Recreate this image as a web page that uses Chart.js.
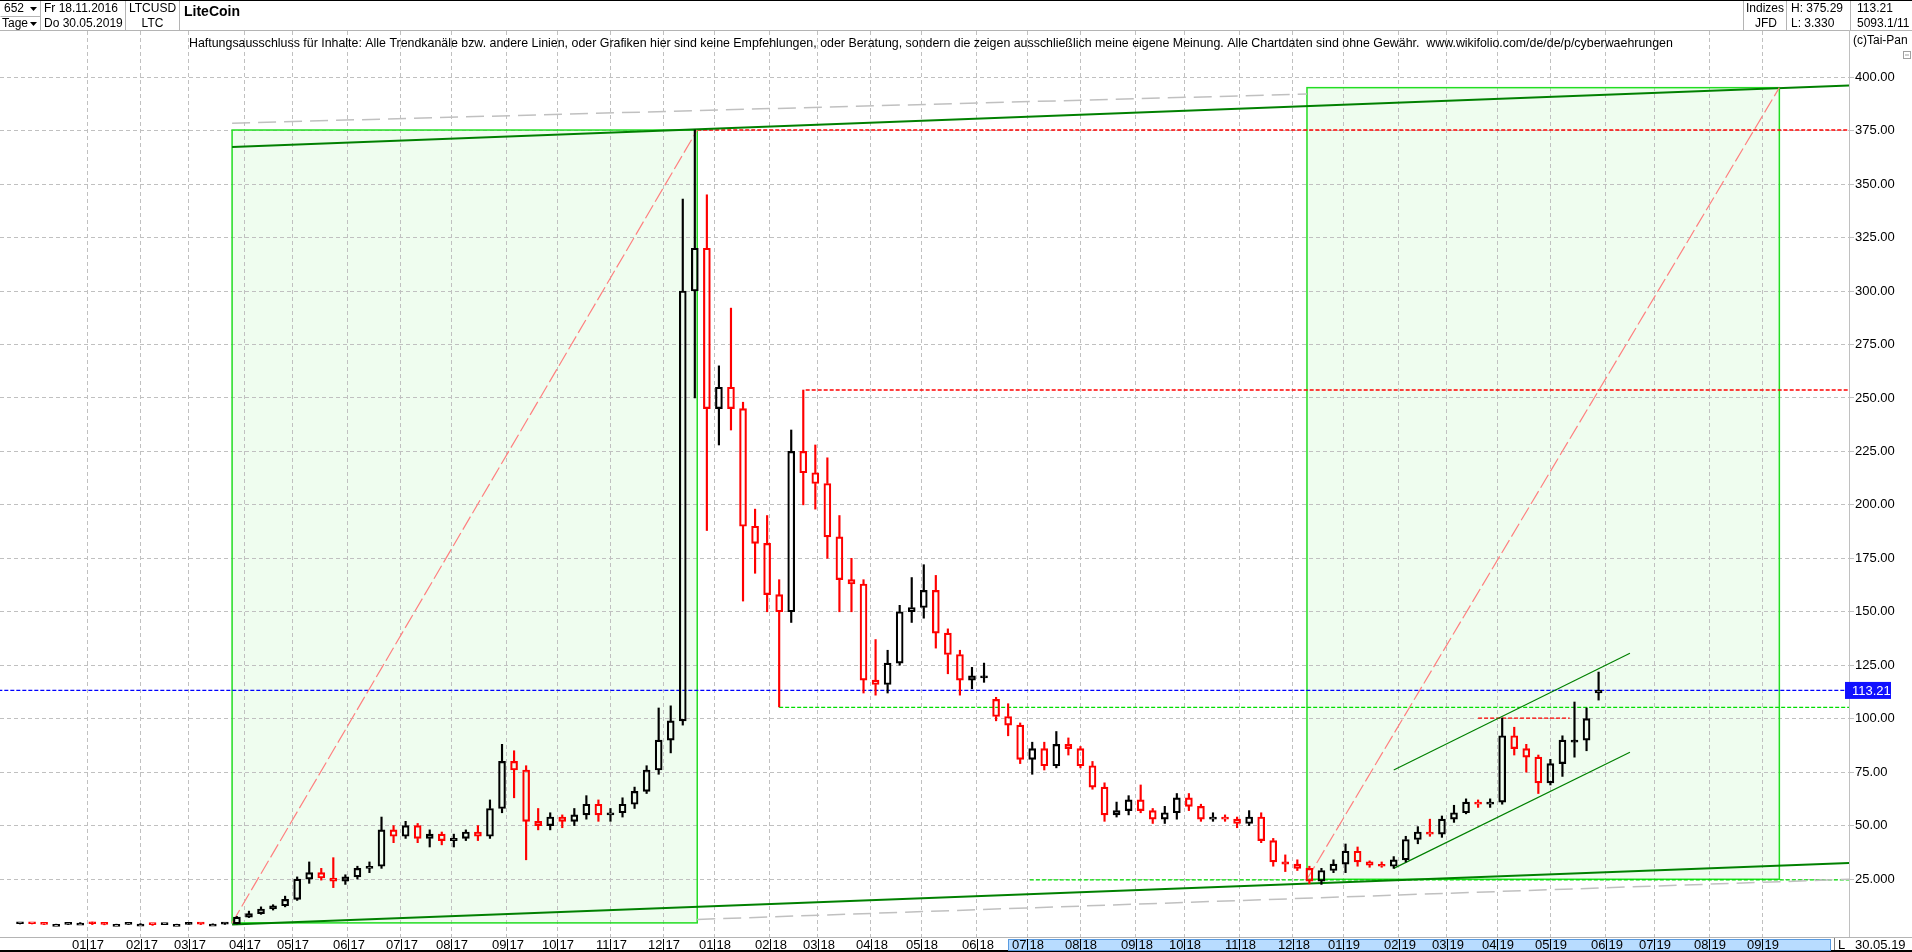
<!DOCTYPE html>
<html>
<head>
<meta charset="utf-8">
<script src="https://cdn.jsdelivr.net/npm/chart.js@4.4.1/dist/chart.umd.min.js"></script>
<style>
  html, body { margin: 0; padding: 0; background: #fff; overflow: hidden; }
  canvas { display: block; }
</style>
</head>
<body>
<canvas id="chart" width="1912" height="952" style="width:1912px;height:952px"></canvas>
<script>
// LTCUSD weekly candles, 18.11.2016 - 30.05.2019 (one candle per trading week)
const FIRST_DAY = '2016-11-18'

const weekOpen = [
  4.1, 4.2, 4.1, 3.8, 3.8, 4.4, 4.4, 4.1, 3.8, 3.8,
  3.9, 3.9, 3.7, 3.8, 3.8, 4.1, 3.9, 3.9, 4.1, 7.2,
  8.8, 11, 12.5, 15.5, 25, 28, 25.5, 24, 26, 30,
  31, 48, 45, 50, 44, 46, 43, 44, 47, 45,
  58, 80, 76, 52, 50, 54, 52, 55, 60, 55,
  56, 60, 66, 76, 90, 99, 300, 320, 245, 255,
  245, 190, 182, 158, 150, 225, 215, 210, 185, 165,
  163, 118, 116, 126, 150, 152, 160, 140, 130, 118,
  120, 109, 101, 97, 81, 86, 78, 88, 86, 78,
  68, 55, 57, 62, 57, 53, 56, 63, 59, 53,
  54, 53, 51, 54, 43, 33, 32, 30, 24, 29,
  32, 38, 33, 31.5, 31, 34, 43.5, 47, 46, 53,
  56, 61, 60, 61, 92, 86, 82, 70, 79, 90,
  90, 112,
]
const weekHigh = [
  4.3, 4.3, 4.1, 3.9, 4.6, 4.6, 4.9, 4.2, 3.9, 4.0,
  4.1, 4.0, 3.9, 3.9, 4.3, 4.2, 4.0, 4.3, 7.5, 10,
  12, 13, 17, 26, 33, 30, 35, 27, 31, 33,
  54, 50, 52, 51, 48, 47, 46, 48, 50, 62,
  88, 85, 78, 58, 56, 55, 58, 64, 62, 58,
  63, 68, 78, 105, 106, 343, 375.29, 345, 265, 292,
  248, 198, 195, 165, 235, 253.7, 228, 222, 195, 175,
  165, 137, 132, 153, 166, 172, 167, 142, 132, 124,
  126, 110, 107, 98, 89, 89, 94, 91, 87, 80,
  70, 61, 64, 69, 58, 59, 65, 65, 60, 56,
  55, 54, 57, 56, 44, 36.3, 34, 31, 30, 34,
  41.4, 40, 33.5, 33, 35.5, 45, 49.5, 53, 54.5, 59.5,
  62.5, 62, 62.5, 100.3, 96, 88, 83, 81, 92, 107.8,
  105, 121.8,
]
const weekLow = [
  4.0, 4.0, 3.7, 3.7, 3.7, 4.2, 3.7, 3.6, 3.7, 3.8,
  3.8, 3.33, 3.7, 3.7, 3.8, 3.7, 3.8, 3.8, 4.0, 7.0,
  8.5, 10.5, 12, 15, 23, 24.5, 21, 22.5, 25, 28,
  30, 42, 44, 42, 40, 41, 40, 43, 43, 44,
  56, 63, 34, 48, 48, 49, 50, 53, 52, 52,
  54, 58, 65, 74, 84, 97, 250, 188, 228, 235,
  155, 168, 150, 105.5, 145, 200, 198, 175, 150, 150,
  112, 111, 112, 125, 145, 147, 133, 121, 111, 114,
  117, 99, 92, 79, 74, 76, 77, 83, 77, 67,
  52, 54, 55, 56, 51, 51, 53, 57, 52, 52,
  52, 49, 50, 42, 31, 28.5, 29, 22.8, 22.5, 28,
  28, 31, 30.5, 30.5, 30, 33, 41.5, 45, 44.5, 51.5,
  55.5, 58.5, 58.5, 60, 83, 75, 65, 69, 73, 82,
  85, 108.7,
]
const weekClose = [
  4.2, 4.1, 3.8, 3.8, 4.4, 4.4, 4.1, 3.8, 3.8, 3.9,
  3.9, 3.7, 3.8, 3.8, 4.1, 3.9, 3.9, 4.1, 7.2, 8.8,
  11, 12.5, 15.5, 25, 28, 25.5, 24, 26, 30, 31,
  48, 45, 50, 44, 46, 43, 44, 47, 45, 58,
  80, 76, 52, 50, 54, 52, 55, 60, 55, 56,
  60, 66, 76, 90, 99, 300, 320, 245, 255, 245,
  190, 182, 158, 150, 225, 215, 210, 185, 165, 163,
  118, 116, 126, 150, 152, 160, 140, 130, 118, 120,
  120, 101, 97, 81, 86, 78, 88, 86, 78, 68,
  55, 57, 62, 57, 53, 56, 63, 59, 53, 54,
  53, 51, 54, 43, 33, 32, 30, 24, 29, 32,
  38, 33, 31.5, 31, 34, 43.5, 47, 46, 53, 56,
  61, 60, 61, 92, 86, 82, 70, 79, 90, 90,
  100, 113.21,
]

const priceTicks = [25, 50, 75, 100, 125, 150, 175, 200, 225, 250, 275, 300, 325, 350, 375, 400]
const monthLabels = [
  '01|17', '02|17', '03|17', '04|17', '05|17', '06|17', '07|17', '08|17', '09|17', '10|17', '11|17', '12|17',
  '01|18', '02|18', '03|18', '04|18', '05|18', '06|18', '07|18', '08|18', '09|18', '10|18', '11|18', '12|18',
  '01|19', '02|19', '03|19', '04|19', '05|19', '06|19', '07|19', '08|19', '09|19',
]

// drawing tools, in trading-day numbers since 18.11.2016 and price: [bar1, price1, bar2, price2]
const channelBoxes = [[91, 4.5, 284, 375.29], [537, 24.9, 733, 395.1]]
const longTrends = [[91, 367.4, 762, 396.1], [91, 3.8, 762, 32.5]]
const greyTrends = [[91, 378.5, 537, 392.1], [284, 6.1, 762, 24.9]]
const channel2019 = [[573, 76.0, 671, 130.6], [573, 30.0, 671, 84.3]]
const redLevels = [[284, 375.29, 770, 375.29], [329, 253.7, 770, 253.7], [608, 100.3, 646, 100.3]]
const greenLevels = [[318, 105.3, 770, 105.3], [422, 24.6, 770, 24.6]]
const lastClose = weekClose[weekClose.length - 1]

const visibleBars = [-5.3, 761.9]
const scrollWindow = [413, 754]

const FONT = "'Liberation Sans', Arial, sans-serif"
const FONT_NARROW = "'Liberation Sans Narrow', 'Liberation Sans', Arial, sans-serif"
const DISCLAIMER = 'Haftungsausschluss für Inhalte: Alle Trendkanäle bzw. andere Linien, oder Grafiken hier sind keine Empfehlungen, oder Beratung, sondern die zeigen ausschließlich meine eigene Meinung. Alle Chartdaten sind ohne Gewähr.  www.wikifolio.com/de/de/p/cyberwaehrungen'

// trading days (Mon-Fri) between the first bar and a date
function barNumber(iso) {
  const t = new Date(FIRST_DAY + 'T00:00:00Z')
  const end = new Date(iso + 'T00:00:00Z')
  let n = 0
  while (t < end) {
    const wd = t.getUTCDay()
    if (wd !== 0 && wd !== 6) n++
    t.setUTCDate(t.getUTCDate() + 1)
  }
  return n
}

const monthBars = monthLabels.map(lab => {
  const [mm, yy] = lab.split('|')
  return barNumber('20' + yy + '-' + mm + '-01')
})

// week k covers trading days 5k+1 .. 5k+5
const weekBar = weekOpen.map((_, k) => 5 * k + 3)
const candleColor = weekClose.map((c, k) => (c >= weekOpen[k] ? '#000000' : '#ff0000'))

function segment(s, color, width, dash) {
  return {
    type: 'line',
    data: [{ x: s[0], y: s[1] }, { x: s[2], y: s[3] }],
    borderColor: color,
    borderWidth: width,
    borderDash: dash,
    pointRadius: 0,
    fill: false,
    tension: 0,
    order: 10,
  }
}

const lineSets = [
  ...channelBoxes.map(b => segment(b, '#ff8080', 1.2, [15, 4])),
  ...greyTrends.map(s => segment(s, '#c0c0c0', 1.5, [18, 8])),
  ...longTrends.map(s => segment(s, '#008000', 2, [])),
  ...channel2019.map(s => segment(s, '#008000', 1.2, [])),
  ...redLevels.map(s => segment(s, '#ff0000', 1.3, [4, 2])),
  ...greenLevels.map(s => segment(s, '#00dd00', 1.3, [4, 2])),
  segment([-6, lastClose, 770, lastClose], '#0000ff', 1.3, [4, 2]),
]

const candleSets = [
  {
    type: 'bar',
    data: weekBar.map((x, k) => ({ x, y: [Math.max(weekOpen[k], weekClose[k]), weekHigh[k]] })),
    backgroundColor: candleColor,
    borderWidth: 0,
    barThickness: 1.5,
    grouped: false,
    order: 3,
  },
  {
    type: 'bar',
    data: weekBar.map((x, k) => ({ x, y: [weekLow[k], Math.min(weekOpen[k], weekClose[k])] })),
    backgroundColor: candleColor,
    borderWidth: 0,
    barThickness: 1.5,
    grouped: false,
    order: 3,
  },
  {
    type: 'bar',
    data: weekBar.map((x, k) => ({ x, y: [weekOpen[k], weekClose[k]] })),
    backgroundColor: 'rgba(0,0,0,0)',
    borderColor: candleColor,
    borderWidth: 1.5,
    borderSkipped: false,
    minBarLength: 2,
    barThickness: 7,
    grouped: false,
    order: 1,
  },
]

function hline(ctx, x1, y1, x2, y2) {
  ctx.beginPath()
  ctx.moveTo(x1, y1)
  ctx.lineTo(x2, y2)
  ctx.stroke()
}

function text(ctx, s, x, y, font, align) {
  ctx.font = font
  ctx.textAlign = align || 'left'
  ctx.fillText(s, x, y)
}

function dropArrow(ctx, x, y) {
  ctx.beginPath()
  ctx.moveTo(x, y - 2)
  ctx.lineTo(x + 7, y - 2)
  ctx.lineTo(x + 3.5, y + 2)
  ctx.closePath()
  ctx.fill()
}

const taiPan = {
  id: 'taiPan',
  beforeDraw(chart) {
    const { ctx, chartArea: a, scales: { x, y } } = chart
    ctx.save()
    ctx.fillStyle = '#fff'
    ctx.fillRect(0, 0, chart.width, chart.height)
    ctx.beginPath()
    ctx.rect(a.left, a.top, a.right - a.left, a.bottom - a.top)
    ctx.clip()
    ctx.fillStyle = '#effdef'
    for (const b of channelBoxes) {
      const l = x.getPixelForValue(b[0])
      const r = x.getPixelForValue(b[2])
      const t = y.getPixelForValue(b[3])
      const btm = y.getPixelForValue(b[1])
      ctx.fillRect(l, t, r - l, btm - t)
    }
    ctx.restore()
  },
  beforeDatasetsDraw(chart) {
    const { ctx, scales: { x, y } } = chart
    ctx.save()
    ctx.strokeStyle = '#22dd22'
    ctx.lineWidth = 1.5
    for (const b of channelBoxes) {
      const l = x.getPixelForValue(b[0])
      const r = x.getPixelForValue(b[2])
      const t = y.getPixelForValue(b[3])
      const btm = y.getPixelForValue(b[1])
      ctx.strokeRect(l, t, r - l, btm - t)
    }
    ctx.restore()
  },
  afterDraw(chart) {
    const { ctx, chartArea: a, scales: { x, y } } = chart
    const W = chart.width
    const H = chart.height
    const f12 = '12px ' + FONT
    const f13 = '13px ' + FONT
    ctx.save()
    ctx.textBaseline = 'middle'
    ctx.fillStyle = '#000'

    // header
    ctx.fillStyle = '#fff'
    ctx.fillRect(0, 0, W, 30)
    ctx.fillStyle = '#000'
    ctx.fillRect(0, 0, W, 1)
    ctx.strokeStyle = '#b4b4b4'
    ctx.lineWidth = 1
    hline(ctx, 0, 30.5, W, 30.5)
    for (const sx of [40.5, 125.5, 179.5, 1743.5, 1786.5, 1850.5]) hline(ctx, sx, 1, sx, 30)
    hline(ctx, 0.5, 16.5, 40, 16.5)
    text(ctx, '652', 4, 9, f12)
    dropArrow(ctx, 30, 9)
    text(ctx, 'Tage', 2, 24, f12)
    dropArrow(ctx, 30, 24)
    text(ctx, 'Fr 18.11.2016', 44, 9, f12)
    text(ctx, 'Do 30.05.2019', 44, 24, f12)
    text(ctx, 'LTCUSD', 129, 9, f12)
    text(ctx, 'LTC', 152.5, 24, f12, 'center')
    text(ctx, 'LiteCoin', 184, 12, 'bold 14px ' + FONT)
    text(ctx, 'Indizes', 1784, 9, f12, 'right')
    text(ctx, 'JFD', 1766, 24, f12, 'center')
    text(ctx, 'H: ' + Math.max(...weekHigh).toFixed(2), 1791, 9, f12)
    text(ctx, 'L: ' + Math.min(...weekLow).toFixed(3), 1791, 24, f12)
    text(ctx, lastClose.toFixed(2), 1857, 9, f12)
    text(ctx, '5093.1/11', 1857, 24, f12)

    // disclaimer and copyright
    text(ctx, DISCLAIMER, 189, 44, '12.4px ' + FONT)
    text(ctx, '(c)Tai-Pan', 1853, 41, f12)
    ctx.strokeStyle = '#a0a0a0'
    ctx.strokeRect(1903.5, 51.5, 7, 7)
    hline(ctx, 1905, 55, 1909, 55)

    // right axis separator
    ctx.strokeStyle = '#c0c0c0'
    hline(ctx, a.right + 0.5, 30, a.right + 0.5, H)

    // last price tag
    const py = y.getPixelForValue(lastClose)
    ctx.fillStyle = '#1010ff'
    ctx.fillRect(a.right - 4, py - 8.5, 46, 17)
    ctx.fillStyle = '#fff'
    text(ctx, lastClose.toFixed(2), a.right + 3, py + 0.5, f13)

    // time axis strip
    ctx.fillStyle = '#fff'
    ctx.fillRect(0, a.bottom + 1, W, H - a.bottom - 1)
    ctx.strokeStyle = '#b4b4b4'
    hline(ctx, 0, a.bottom + 0.5, W, a.bottom + 0.5)
    ctx.fillStyle = '#000'
    ctx.fillRect(0, H - 2, W, 2)
    const s1 = x.getPixelForValue(scrollWindow[0])
    const s2 = x.getPixelForValue(scrollWindow[1])
    ctx.fillStyle = '#b8dcff'
    ctx.fillRect(s1, a.bottom + 2.5, s2 - s1, 11)
    ctx.strokeStyle = '#5a9be0'
    ctx.strokeRect(Math.round(s1) + 0.5, a.bottom + 2.5, Math.round(s2 - s1), 11)

    ctx.fillStyle = '#000'
    ctx.strokeStyle = '#000'
    const ly = a.bottom + 8
    monthLabels.forEach((lab, k) => {
      const px = Math.round(x.getPixelForValue(monthBars[k])) + 0.5
      const [mm, yy] = lab.split('|')
      text(ctx, mm, px - 1, ly, '13px ' + FONT_NARROW, 'right')
      text(ctx, yy, px + 2, ly, '13px ' + FONT_NARROW, 'left')
      hline(ctx, px, a.bottom + 2, px, H - 2)
    })
    ctx.strokeStyle = '#808080'
    hline(ctx, 1834.5, a.bottom + 1, 1834.5, H - 2)
    text(ctx, 'L', 1841.5, ly, f13, 'center')
    text(ctx, '30.05.19', 1855, ly, f13)
    ctx.restore()
  },
}

new Chart(document.getElementById('chart'), {
  type: 'bar',
  data: { datasets: [...candleSets, ...lineSets] },
  options: {
    responsive: false,
    animation: false,
    devicePixelRatio: 1,
    layout: { padding: { top: 31, bottom: 15, left: 0, right: 0 } },
    plugins: { legend: { display: false }, tooltip: { enabled: false } },
    scales: {
      x: {
        type: 'linear',
        min: visibleBars[0],
        max: visibleBars[1],
        offset: false,
        afterBuildTicks: s => { s.ticks = monthBars.map(v => ({ value: v })) },
        afterFit: s => { s.height = 0 },
        ticks: { display: false },
        grid: { color: '#c0c0c0', drawTicks: false, offset: false, lineWidth: 1 },
        border: { display: false, dash: [4, 3] },
      },
      y: {
        type: 'linear',
        position: 'right',
        min: -2.1,
        max: 421.6,
        afterBuildTicks: s => { s.ticks = priceTicks.map(v => ({ value: v })) },
        afterFit: s => { s.width = 63 },
        ticks: {
          color: '#000',
          padding: 1,
          crossAlign: 'near',
          font: { family: FONT, size: 13 },
          callback: v => (v === 25 ? '25.000' : v.toFixed(2)),
        },
        grid: { color: '#c0c0c0', tickLength: 5, tickColor: '#c0c0c0', lineWidth: 1 },
        border: { display: false, dash: [4, 3] },
      },
    },
  },
  plugins: [taiPan],
})
</script>
</body>
</html>
